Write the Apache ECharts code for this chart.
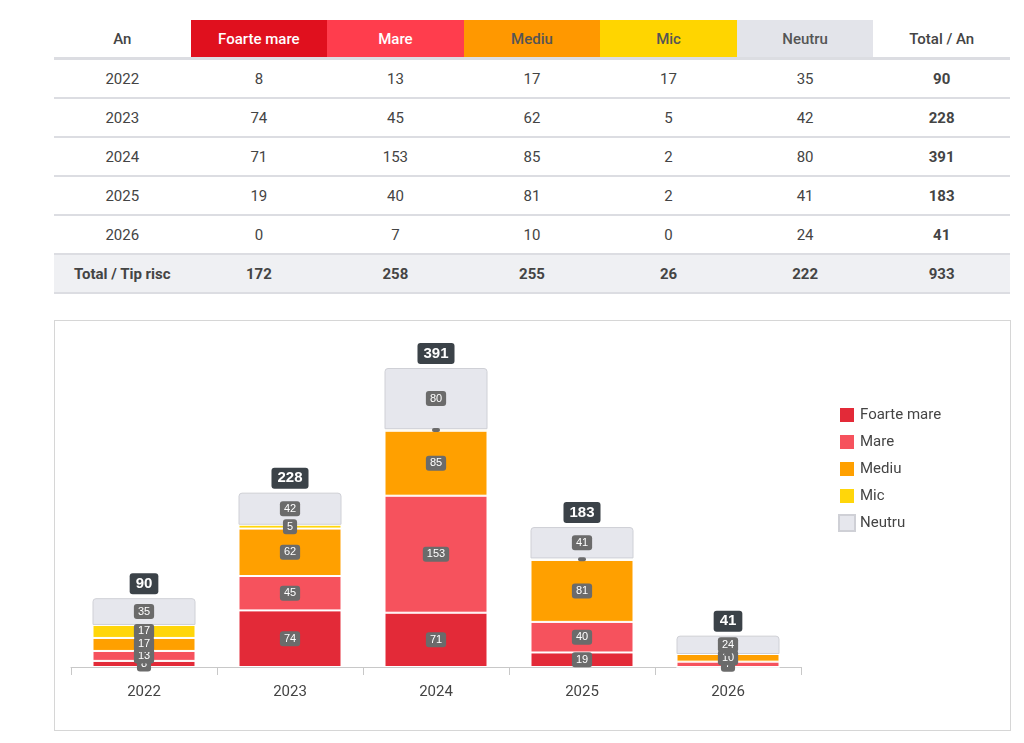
<!DOCTYPE html>
<html>
<head>
<meta charset="utf-8">
<script src="https://cdn.jsdelivr.net/npm/echarts@6/dist/echarts.min.js"></script>
<style>
body{margin:0;background:#fff;font-family:Roboto,sans-serif;}
#tbl{position:absolute;left:54px;top:20px;width:956px;border-collapse:collapse;table-layout:fixed;font-size:15px;color:#444;}
#tbl td,#tbl th{height:37px;text-align:center;border-bottom:2px solid #dcdde2;padding:0;}
#tbl th{font-weight:500;color:#444;border-bottom:3px solid #dcdde2;}
#tbl tr.tot td{background:#eff0f3;font-weight:bold;}
#tbl td.b{font-weight:bold;}
#box{position:absolute;left:54px;top:320px;width:955px;height:409px;border:1px solid #d6d6d6;}
</style>
</head>
<body>
<table id="tbl"></table>
<div id="box"></div>
<script>
// date
var ani = ['2022','2023','2024','2025','2026'];
var tipuri = ['Foarte mare','Mare','Mediu','Mic','Neutru'];
var foarteMare = [8,74,71,19,0];
var mare = [13,45,153,40,7];
var mediu = [17,62,85,81,10];
var mic = [17,5,2,2,0];
var neutru = [35,42,80,41,24];
var totalAn = [90,228,391,183,41];
var totalTip = [172,258,255,26,222];
var totalGeneral = 933;

var culoriHead = ['#e0101e','#ff3d4d','#ff9800','#ffd500','#e3e4ea'];
var textHead = ['#fff','#fff','#555','#555','#555'];
var culoriBar = ['#e32a38','#f6525d','#ffa000','#ffd60a','#e6e7ed'];
var serii = [foarteMare,mare,mediu,mic,neutru];

// tabel
var h = '<tr><th>An</th>';
tipuri.forEach(function(t,i){
	h += '<th style="background:'+culoriHead[i]+';color:'+textHead[i]+'">'+t+'</th>';
});
h += '<th>Total / An</th></tr>';
ani.forEach(function(a,r){
	h += '<tr><td>'+a+'</td>';
	serii.forEach(function(s){ h += '<td>'+s[r]+'</td>'; });
	h += '<td class="b">'+totalAn[r]+'</td></tr>';
});
h += '<tr class="tot"><td>Total / Tip risc</td>';
totalTip.forEach(function(v){ h += '<td>'+v+'</td>'; });
h += '<td>'+totalGeneral+'</td></tr>';
document.getElementById('tbl').innerHTML = h;

// grafic
var myChart = echarts.init(document.getElementById('box'));
var series = tipuri.map(function(t,i){
	return {
		name:t, type:'bar', stack:'a', barWidth:103, data:serii[i],
		itemStyle:{color:culoriBar[i], borderColor: i==4 ? '#cfd0d6' : '#fff', borderWidth:1,
			borderRadius: i==4 ? [3,3,0,0] : 0},
		label:{show:true, position:'inside', formatter:function(p){return p.value>=5 ? p.value : '';},
			color:'#fff', fontSize:11, backgroundColor:'#6b6b6b', borderRadius:3, padding:[2,4]}
	};
});
series.push({
	name:'total', type:'bar', stack:'a', barWidth:103, data:[0,0,0,0,0],
	label:{show:true, position:'top', distance:4, formatter:function(p){return totalAn[p.dataIndex];},
		color:'#fff', fontWeight:'bold', fontSize:15, backgroundColor:'#3b4248', borderRadius:3, padding:[3,6]}
});
myChart.setOption({
	animation:false,
	grid:{left:16,right:209,top:47,bottom:63},
	legend:{orient:'vertical', left:778, top:80, itemWidth:16, itemHeight:16, itemGap:9,
		icon:'rect', data:tipuri, textStyle:{fontSize:15,color:'#444',fontFamily:'Roboto'}},
	xAxis:{type:'category', data:ani,
		axisLine:{lineStyle:{color:'#c8c8c8'}},
		axisTick:{show:true, length:8, lineStyle:{color:'#c8c8c8'}},
		axisLabel:{fontSize:15, color:'#444', margin:18, fontFamily:'Roboto'}},
	yAxis:{type:'value', min:0, max:391, show:false, splitLine:{show:false}},
	series:series
});
</script>
</body>
</html>
